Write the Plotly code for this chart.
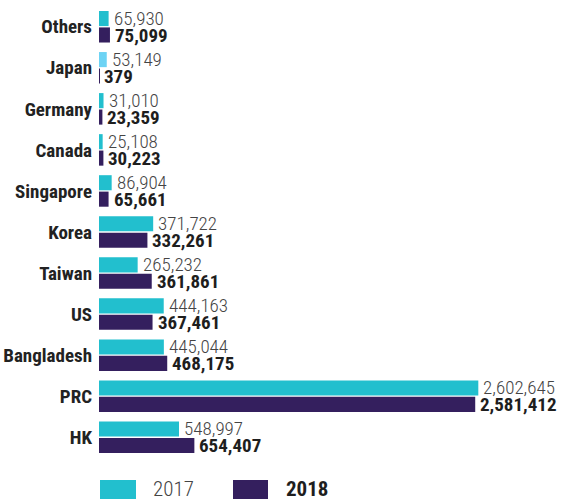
import plotly.graph_objects as go

categories = ["Others", "Japan", "Germany", "Canada", "Singapore", "Korea",
              "Taiwan", "US", "Bangladesh", "PRC", "HK"]
values_2017 = [65930, 53149, 31010, 25108, 86904, 371722, 265232, 444163, 445044, 2602645, 548997]
values_2018 = [75099, 379, 23359, 30223, 65661, 332261, 361861, 367461, 468175, 2581412, 654407]
series_names = ["2017", "2018"]

TEAL = "#22bfce"
LIGHT = "#6dd3f4"
PURPLE = "#341f5e"
FONT = "Roboto Condensed, Open Sans Condensed, sans-serif"

colors_2017 = [LIGHT if c == "Japan" else TEAL for c in categories]

W, H = 561, 499
ML, MR, MT, MB = 99, 0, 5, 40
PH = H - MT - MB
BARGAP = 0.2
SLOT_PX = PH / len(categories) * (1 - BARGAP) / 2

fig = go.Figure()
fig.add_trace(go.Bar(
    y=categories, x=values_2017, orientation="h", name=series_names[0],
    marker=dict(color=colors_2017, line=dict(width=0)),
    showlegend=False, hoverinfo="x+y",
))
fig.add_trace(go.Bar(
    y=categories, x=values_2018, orientation="h", name=series_names[1],
    marker=dict(color=PURPLE, line=dict(width=0)),
    showlegend=False, hoverinfo="x+y",
))

# value labels
for vals, shift, wt, col in [(values_2017, SLOT_PX / 2, 300, "#444444"),
                             (values_2018, -SLOT_PX / 2, "bold", "#1e1e1e")]:
    for c, v in zip(categories, vals):
        fig.add_annotation(x=v, y=c, text=f"{v:,}", showarrow=False,
                           xanchor="left", yanchor="middle", xshift=3, yshift=shift,
                           font=dict(family=FONT, size=19, color=col, weight=wt))

def py2paper(py):
    return (H - MB - py) / PH

def px2paper(px):
    return (px - ML) / (W - ML - MR)

# custom legend
legend_items = [(series_names[0], TEAL, 100, 136, 151, 300, "#444444"),
                (series_names[1], PURPLE, 233, 268, 284, "bold", "#1e1e1e")]
for name, col, x0, x1, tx, wt, tc in legend_items:
    fig.add_shape(type="rect", xref="paper", yref="paper",
                  x0=px2paper(x0), x1=px2paper(x1),
                  y0=py2paper(480), y1=py2paper(502),
                  fillcolor=col, line=dict(width=0))
    fig.add_annotation(xref="paper", yref="paper", x=px2paper(tx), y=py2paper(489),
                       text=name, showarrow=False, xanchor="left", yanchor="middle",
                       font=dict(family=FONT, size=21, color=tc, weight=wt))

fig.update_layout(
    width=W, height=H,
    margin=dict(l=ML, r=MR, t=MT, b=MB),
    barmode="group", bargap=BARGAP, bargroupgap=0.08,
    plot_bgcolor="white", paper_bgcolor="white",
    xaxis=dict(range=[0, 3170000], visible=False, showgrid=False, zeroline=False),
    yaxis=dict(autorange="reversed", showgrid=False, zeroline=False, showline=False,
               ticks="", ticklabelstandoff=6, automargin=False,
               tickfont=dict(family=FONT, size=19, color="#222222", weight="bold")),
)

fig.write_html("out.html")
